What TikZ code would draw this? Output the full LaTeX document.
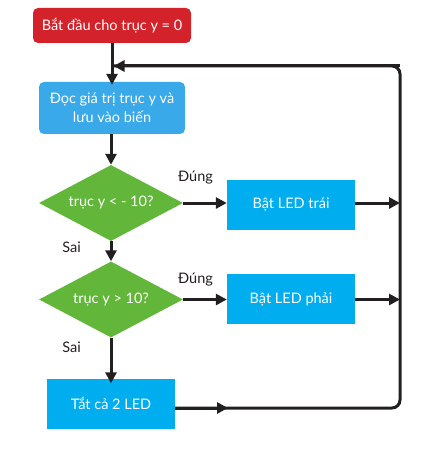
\documentclass[tikz,border=0pt]{standalone}
\usepackage{fontspec}
\setmainfont{Lato}
\usetikzlibrary{shapes.geometric,arrows.meta,calc}
\definecolor{cred}{HTML}{D3222A}
\definecolor{cread}{HTML}{3AA9E9}
\definecolor{cgreen}{HTML}{62B73A}
\definecolor{ccyan}{HTML}{00AEEF}
\definecolor{cline}{HTML}{231F20}
\tikzset{
  base/.style={inner sep=0pt, text=white, font=\fontsize{14.5}{18.5}\selectfont, align=center},
  startbox/.style={base, rectangle, rounded corners=5pt, fill=cred, minimum width=158pt, minimum height=35pt},
  readbox/.style={base, rectangle, rounded corners=5pt, fill=cread, minimum width=146pt, minimum height=52pt},
  decide/.style={base, diamond, aspect=1.9, fill=cgreen, minimum width=144pt, minimum height=76pt},
  actbox/.style={base, rectangle, fill=ccyan, minimum width=128pt, minimum height=50pt},
  lbl/.style={inner sep=0pt, text=cline, font=\fontsize{14.5}{18}\selectfont},
  conn/.style={draw=cline, line width=3pt},
  arr/.style={conn, -{Triangle[length=11pt,width=11pt]}}
}
\begin{document}
\begin{tikzpicture}[x=1pt,y=-1pt]
\useasboundingbox (0,0) rectangle (443,449);
\node[startbox] (start) at (112,25.5) {Bắt đầu cho trục y = 0};
\node[readbox] (read) at (112,108) {Đọc giá trị trục y và\\lưu vào biến};
\node[decide] (d1) at (111,203) {trục y < - 10?};
\node[decide] (d2) at (111,299.5) {trục y > 10?};
\node[actbox] (b1) at (291,205) {Bật LED trái};
\node[actbox] (b2) at (291,299) {Bật LED phải};
\node[actbox] (b3) at (111,403.5) {Tắt cả 2 LED};
\node[lbl] (y1) at (195.5,178) {Đúng};
\node[lbl] (y2) at (195.5,280) {Đúng};
\node[lbl] (n1) at (71.5,247) {Sai};
\node[lbl] (n2) at (71.5,347) {Sai};
\coordinate (rb) at (400,408);
\coordinate (rt) at (400,66);
\draw[arr] (start.south -| read.north) -- ([yshift=-3pt]read.north);
\draw[arr] (read.south -| d1.north) -- (d1.north);
\draw[arr] (d1.south) -- (d2.north);
\draw[arr] (d2.south) -- ([yshift=-5pt]b3.north);
\draw[arr] (d1.east) -- (b1.west |- d1.east);
\draw[arr] (d2.east) -- (b2.west |- d2.east);
\draw[arr] (b1.east |- d1.east) -- (rt |- d1.east);
\draw[arr] (b2.east |- d2.east) -- (rt |- d2.east);
\draw[conn, rounded corners=8pt] (b3.east |- rb) -- (rb) -- (rt) -- (read.north |- rt);
\draw[arr] (b3.east |- rb) -- (228,408);
\draw[arr] (rt) -- ([xshift=1.5pt]read.north |- rt);
\end{tikzpicture}
\end{document}
